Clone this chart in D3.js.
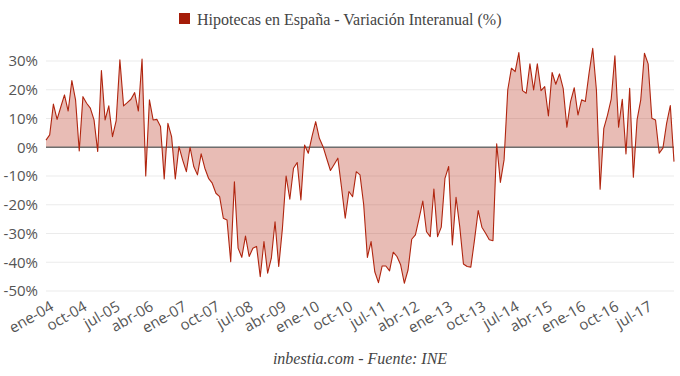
<!DOCTYPE html>
<html>
<head>
  <meta charset="utf-8">
  <title>Hipotecas en España</title>
  <script src="https://d3js.org/d3.v7.min.js"></script>
  <style>
    body { margin: 0; background: #fff; }
    svg { display: block; }
    .grid line { stroke: #ebebeb; stroke-width: 1; }
    .tick-label { fill: #555; font-size: 15px; font-family: 'Open Sans', sans-serif; }
    .serif { font-family: 'Liberation Serif', 'Times New Roman', serif; fill: #444; }
  </style>
</head>
<body>
<svg width="680" height="376"></svg>
<script>
  // Variación interanual (%) mensual, desde ene-04
  const values = [
    2.5, 4.3, 15, 9.7, 14, 18.2, 12.6, 23.2, 16.5, -1.3, 17.6, 15.3,
    13.6, 9.5, -1.5, 26.7, 9.5, 14.4, 3.7, 9.3, 30.4, 14.4, 15.5, 16.7,
    19, 12.6, 30.7, -10, 16.5, 9.5, 9.7, 7.2, -11, 8.3, 3.7, -11,
    0.2, -4.5, -8.5, 0, -6.7, -9.6, -2.3, -7.3, -10.8, -12.5, -16, -17.2,
    -24.7, -25.3, -39.8, -12, -35.1, -38.3, -30.9, -38, -35.1, -34.5, -45, -32.8,
    -43.8, -38.6, -25.9, -41.5, -28.2, -10, -18.1, -7.3, -5.3, -18.3, 0.8, -2.1,
    3.7, 8.9, 3.1, 0.2, -4, -8.1, -6, -3.8, -14, -24.7, -15.4, -17.2,
    -8.5, -9.6, -20, -38.3, -32.8, -43.3, -47.1, -41.3, -41.3, -43, -36.5, -38,
    -40.9, -47.3, -42.7, -32, -30.5, -24.7, -18.7, -29.4, -31.1, -14.5, -31.1, -27.8,
    -10.8, -6.7, -34, -17.4, -27.6, -40.6, -41.5, -41.7, -32.2, -22, -27.8, -29.9,
    -32.2, -32.5, 1.2, -12.2, -4.4, 20, 27.5, 26.3, 32.9, 19.7, 18.8, 29,
    19.9, 29, 19.7, 21.1, 10.9, 26, 21.9, 25.5, 20.5, 7, 15.9, 20.7,
    11.2, 16.5, 15.9, 25.7, 34.4, 19.9, -14.6, 6.6, 11.2, 16.7, 31.8, 7,
    16.7, -2.3, 20.5, -10.4, 9.5, 16.5, 32.7, 29, 10.1, 9.5, -2.1, -0.3,
    8.3, 14.5, -5
  ];
  const monthNames = ['ene', 'feb', 'mar', 'abr', 'may', 'jun', 'jul', 'ago', 'sep', 'oct', 'nov', 'dic'];
  const startYear = 2004;
  const categories = values.map((v, i) =>
    monthNames[i % 12] + '-' + String((startYear + Math.floor(i / 12)) % 100).padStart(2, '0'));
  const yTicks = [30, 20, 10, 0, -10, -20, -30, -40, -50];
  const tickStep = 9;

  const svg = d3.select('svg');
  const margin = { left: 46, right: 6 };
  const width = 680;

  const x = d3.scalePoint()
    .domain(categories)
    .range([margin.left, width - margin.right]);

  const y = d3.scaleLinear()
    .domain([-50, 30])
    .range([291, 61]);

  // rejilla
  svg.append('g').attr('class', 'grid')
    .selectAll('line')
    .data(yTicks)
    .join('line')
    .attr('x1', margin.left)
    .attr('x2', width - margin.right)
    .attr('y1', d => y(d))
    .attr('y2', d => y(d));

  svg.append('g')
    .selectAll('text')
    .data(yTicks)
    .join('text')
    .attr('class', 'tick-label')
    .attr('x', 38)
    .attr('y', d => y(d))
    .attr('dy', '0.35em')
    .attr('text-anchor', 'end')
    .text(d => d + '%');

  // área y línea
  const area = d3.area()
    .x((d, i) => x(categories[i]))
    .y0(y(0))
    .y1(d => y(d));

  const line = d3.line()
    .x((d, i) => x(categories[i]))
    .y(d => y(d));

  svg.append('path')
    .datum(values)
    .attr('d', area)
    .attr('fill', '#b8301a')
    .attr('fill-opacity', 0.32);

  svg.append('line')
    .attr('x1', margin.left)
    .attr('x2', width - margin.right)
    .attr('y1', y(0))
    .attr('y2', y(0))
    .attr('stroke', '#6e6e6e')
    .attr('stroke-width', 1.5);

  svg.append('path')
    .datum(values)
    .attr('d', line)
    .attr('fill', 'none')
    .attr('stroke', '#b0250f')
    .attr('stroke-width', 1.1)
    .attr('stroke-linejoin', 'round');

  // etiquetas eje x
  const xLabels = categories.filter((c, i) => i % tickStep === 0);
  svg.append('g')
    .selectAll('text')
    .data(xLabels)
    .join('text')
    .attr('class', 'tick-label')
    .attr('text-anchor', 'end')
    .attr('transform', d => `translate(${x(d) + 6},${305}) rotate(-30)`)
    .attr('dy', '0.35em')
    .text(d => d);

  // leyenda
  const legend = svg.append('g');
  legend.append('rect')
    .attr('x', 179).attr('y', 13)
    .attr('width', 11).attr('height', 11)
    .attr('fill', '#a51c08');
  legend.append('text')
    .attr('class', 'serif')
    .attr('x', 197).attr('y', 19)
    .attr('dy', '0.35em')
    .attr('font-size', 16)
    .text('Hipotecas en España - Variación Interanual (%)');

  // fuente
  svg.append('text')
    .attr('class', 'serif')
    .attr('x', 360).attr('y', 358)
    .attr('dy', '0.35em')
    .attr('text-anchor', 'middle')
    .attr('font-size', 16)
    .attr('font-style', 'italic')
    .text('inbestia.com - Fuente: INE');
</script>
</body>
</html>
